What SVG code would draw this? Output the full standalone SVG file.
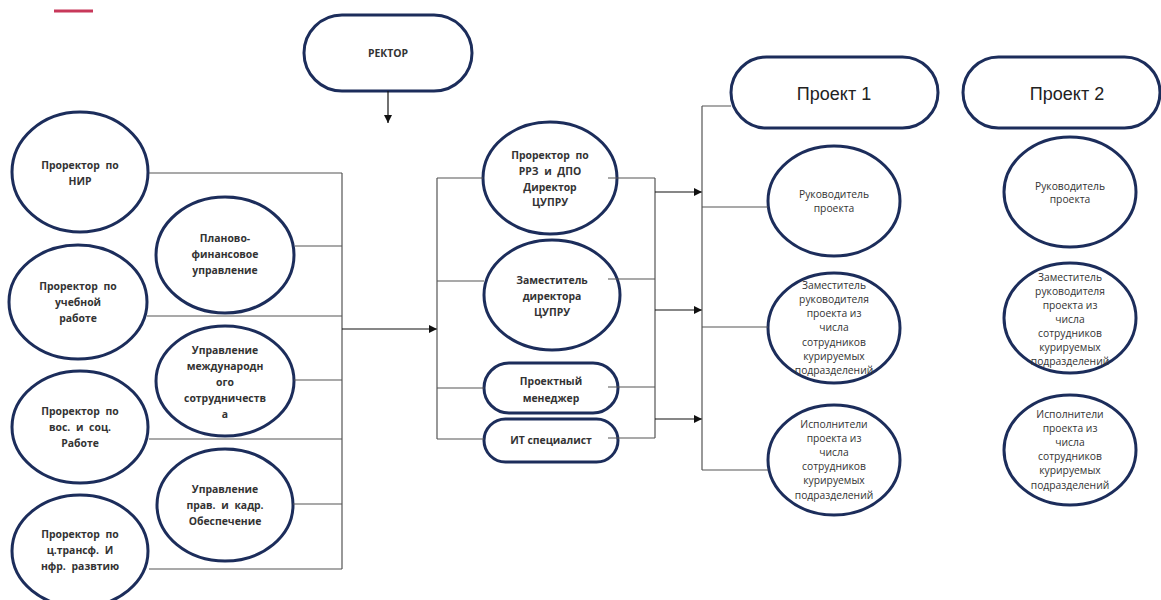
<svg xmlns="http://www.w3.org/2000/svg" width="1161" height="600" viewBox="0 0 1161 600">
<defs>
<marker id="arr" markerWidth="8" markerHeight="8" refX="8" refY="4" orient="auto" markerUnits="userSpaceOnUse">
<path d="M0,0 L8,4 L0,8 z" fill="#111"/>
</marker>
<style>
.n{fill:#fff;stroke:#1c2d5b;stroke-width:3}
.b{font-family:"Open Sans","DejaVu Sans",sans-serif;font-size:10.4px;font-weight:bold;fill:#333;text-anchor:middle;word-spacing:3px}
.r{font-family:"Open Sans","DejaVu Sans",sans-serif;font-size:10.3px;fill:#333;text-anchor:middle}
.p{font-family:"Liberation Sans",Arial,sans-serif;font-size:18px;fill:#222;text-anchor:middle}
.c{fill:none;stroke:#555;stroke-width:1.2}
.a{fill:none;stroke:#111;stroke-width:1.2;marker-end:url(#arr)}
</style>
</defs>
<rect width="1161" height="600" fill="#fff"/>
<path d="M54 11 H93" stroke="#c8385a" stroke-width="3"/>

<g id="rector"><rect class="n" x="304" y="15" width="168" height="76" rx="38"/><text class="b" x="388" y="57">РЕКТОР</text></g>

<g id="prorector-nir"><ellipse class="n" cx="80" cy="172" rx="68" ry="60"/><text class="b" x="80" y="169">Проректор по<tspan x="80" dy="16">НИР</tspan></text></g>
<g id="pfu"><ellipse class="n" cx="225" cy="255" rx="69" ry="58"/><text class="b" x="225" y="242">Планово-<tspan x="225" dy="16">финансовое</tspan><tspan x="225" dy="16">управление</tspan></text></g>
<g id="prorector-ucheb"><ellipse class="n" cx="78" cy="302" rx="69" ry="57"/><text class="b" x="78" y="290">Проректор по<tspan x="78" dy="16">учебной</tspan><tspan x="78" dy="16">работе</tspan></text></g>
<g id="ums"><ellipse class="n" cx="225" cy="381" rx="69" ry="55"/><text class="b" x="225" y="354">Управление<tspan x="225" dy="16">международн</tspan><tspan x="225" dy="16">ого</tspan><tspan x="225" dy="16">сотрудничеств</tspan><tspan x="225" dy="16">а</tspan></text></g>
<g id="prorector-vos"><ellipse class="n" cx="80" cy="427" rx="68" ry="56"/><text class="b" x="80" y="415">Проректор по<tspan x="80" dy="16">вос. и соц.</tspan><tspan x="80" dy="16">Работе</tspan></text></g>
<g id="upko"><ellipse class="n" cx="225" cy="505" rx="68" ry="56"/><text class="b" x="225" y="493">Управление<tspan x="225" dy="16">прав. и кадр.</tspan><tspan x="225" dy="16">Обеспечение</tspan></text></g>
<g id="prorector-ct"><ellipse class="n" cx="80" cy="551" rx="68" ry="56"/><text class="b" x="80" y="538">Проректор по<tspan x="80" dy="16">ц.трансф. И</tspan><tspan x="80" dy="16">нфр. развтию</tspan></text></g>

<g id="prorector-rrz"><ellipse class="n" cx="550" cy="178" rx="67" ry="56"/><text class="b" x="550" y="159">Проректор по<tspan x="550" dy="16">РРЗ и ДПО</tspan><tspan x="550" dy="16">Директор</tspan><tspan x="550" dy="15">ЦУПРУ</tspan></text></g>
<g id="zam-dir"><ellipse class="n" cx="552" cy="295" rx="68" ry="55"/><text class="b" x="552" y="284">Заместитель<tspan x="552" dy="16">директора</tspan><tspan x="552" dy="16">ЦУПРУ</tspan></text></g>
<g id="pm"><rect class="n" x="484" y="363" width="134" height="50" rx="25"/><text class="b" x="551" y="385">Проектный<tspan x="551" dy="17">менеджер</tspan></text></g>
<g id="it"><rect class="n" x="484" y="419" width="134" height="43" rx="21.5"/><text class="b" x="551" y="444" style="word-spacing:0">ИТ специалист</text></g>

<g id="proekt1"><rect class="n" x="731" y="57" width="207" height="71" rx="35.5"/><text class="p" x="834" y="100">Проект 1</text></g>
<g id="proekt2"><rect class="n" x="963" y="57" width="197" height="71" rx="35.5"/><text class="p" x="1067" y="100">Проект 2</text></g>

<g id="ruk1"><ellipse class="n" cx="834" cy="201" rx="66" ry="55"/><text class="r" x="834" y="197.5">Руководитель<tspan x="834" dy="14">проекта</tspan></text></g>
<g id="ruk2"><ellipse class="n" cx="1070" cy="192" rx="66" ry="55"/><text class="r" x="1070" y="189.5">Руководитель<tspan x="1070" dy="13">проекта</tspan></text></g>
<g id="zam1"><ellipse class="n" cx="834" cy="328" rx="66" ry="55"/><text class="r" x="834" y="288.5">Заместитель<tspan x="834" dy="14.3">руководителя</tspan><tspan x="834" dy="14.3">проекта из</tspan><tspan x="834" dy="14.3">числа</tspan><tspan x="834" dy="14.3">сотрудников</tspan><tspan x="834" dy="14.3">курируемых</tspan><tspan x="834" dy="14.3">подразделений</tspan></text></g>
<g id="zam2"><ellipse class="n" cx="1070" cy="318" rx="66" ry="55"/><text class="r" x="1070" y="280.5">Заместитель<tspan x="1070" dy="14">руководителя</tspan><tspan x="1070" dy="14">проекта из</tspan><tspan x="1070" dy="14">числа</tspan><tspan x="1070" dy="14">сотрудников</tspan><tspan x="1070" dy="14">курируемых</tspan><tspan x="1070" dy="14">подразделений</tspan></text></g>
<g id="isp1"><ellipse class="n" cx="834" cy="460" rx="66" ry="55"/><text class="r" x="834" y="427.5">Исполнители<tspan x="834" dy="14.2">проекта из</tspan><tspan x="834" dy="14.2">числа</tspan><tspan x="834" dy="14.2">сотрудников</tspan><tspan x="834" dy="14.2">курируемых</tspan><tspan x="834" dy="14.2">подразделений</tspan></text></g>
<g id="isp2"><ellipse class="n" cx="1070" cy="450" rx="66" ry="55"/><text class="r" x="1070" y="417.5">Исполнители<tspan x="1070" dy="14.2">проекта из</tspan><tspan x="1070" dy="14.2">числа</tspan><tspan x="1070" dy="14.2">сотрудников</tspan><tspan x="1070" dy="14.2">курируемых</tspan><tspan x="1070" dy="14.2">подразделений</tspan></text></g>

<g id="connectors">
<path class="a" d="M388 91 V123"/>
<path class="c" d="M149 173 H342 M295 246 H342 M147 316 H342 M294 380 H342 M149 439 H342 M293 504 H342 M149 569 H342 M342 173 V569"/>
<path class="a" d="M342 329 H437"/>
<path class="c" d="M437 178 V439 M437 178 H483 M437 281 H484 M437 388 H484 M437 439 H484"/>
<path class="c" d="M608 178 H655 M608 279 H655 M608 387 H655 M608 438 H655 M655 178 V438"/>
<path class="a" d="M655 192 H702"/>
<path class="a" d="M655 310 H702"/>
<path class="a" d="M655 419 H702"/>
<path class="c" d="M702 106 V470 M702 106 H731 M702 207 H768 M702 327 H768 M702 470 H768"/>
</g>
</svg>
